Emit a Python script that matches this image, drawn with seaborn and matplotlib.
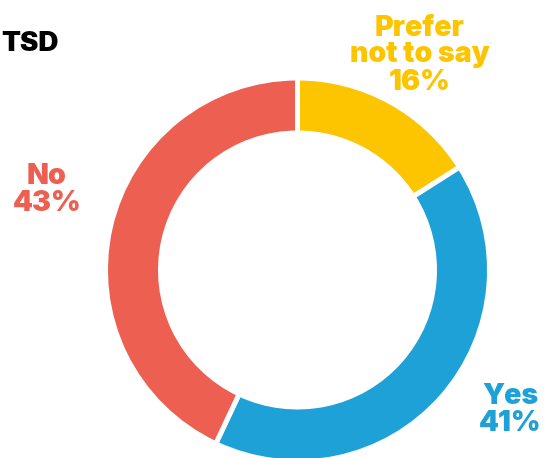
import matplotlib
matplotlib.use("Agg")
import matplotlib.pyplot as plt
import seaborn as sns

categories = ["Prefer\nnot to say", "Yes", "No"]
shares = [16, 41, 43]
colors = ["#FDC400", "#1EA1D7", "#EC5F51"]

sns.set_theme(style="white")
plt.rcParams["font.family"] = ["Inter", "DejaVu Sans"]

W, H = 547, 458
fig = plt.figure(figsize=(W / 100, H / 100), dpi=100)
ax = fig.add_axes([0, 0, 1, 1])
ax.set_xlim(0, W)
ax.set_ylim(0, H)
ax.set_aspect("equal")
ax.axis("off")

cx, cy = 297.5, H - 270
ax.pie(shares, colors=colors, startangle=90, counterclock=False,
       center=(cx, cy), radius=192,
       wedgeprops=dict(width=55, edgecolor="white", linewidth=3.6))
ax.set_xlim(0, W)
ax.set_ylim(0, H)

label_pos = [(420, H - 55), (510, H - 410), (47, H - 190)]
for name, val, col, (x, y) in zip(categories, shares, colors, label_pos):
    ax.text(x, y, f"{name}\n{val}%", ha="center", va="center", color=col,
            fontsize=20.5, fontweight="black", linespacing=1.0)

ax.text(1, H - 44, "TSD", ha="left", va="center", color="black",
        fontsize=20, fontweight="black")

fig.savefig("out.png", dpi=100)
